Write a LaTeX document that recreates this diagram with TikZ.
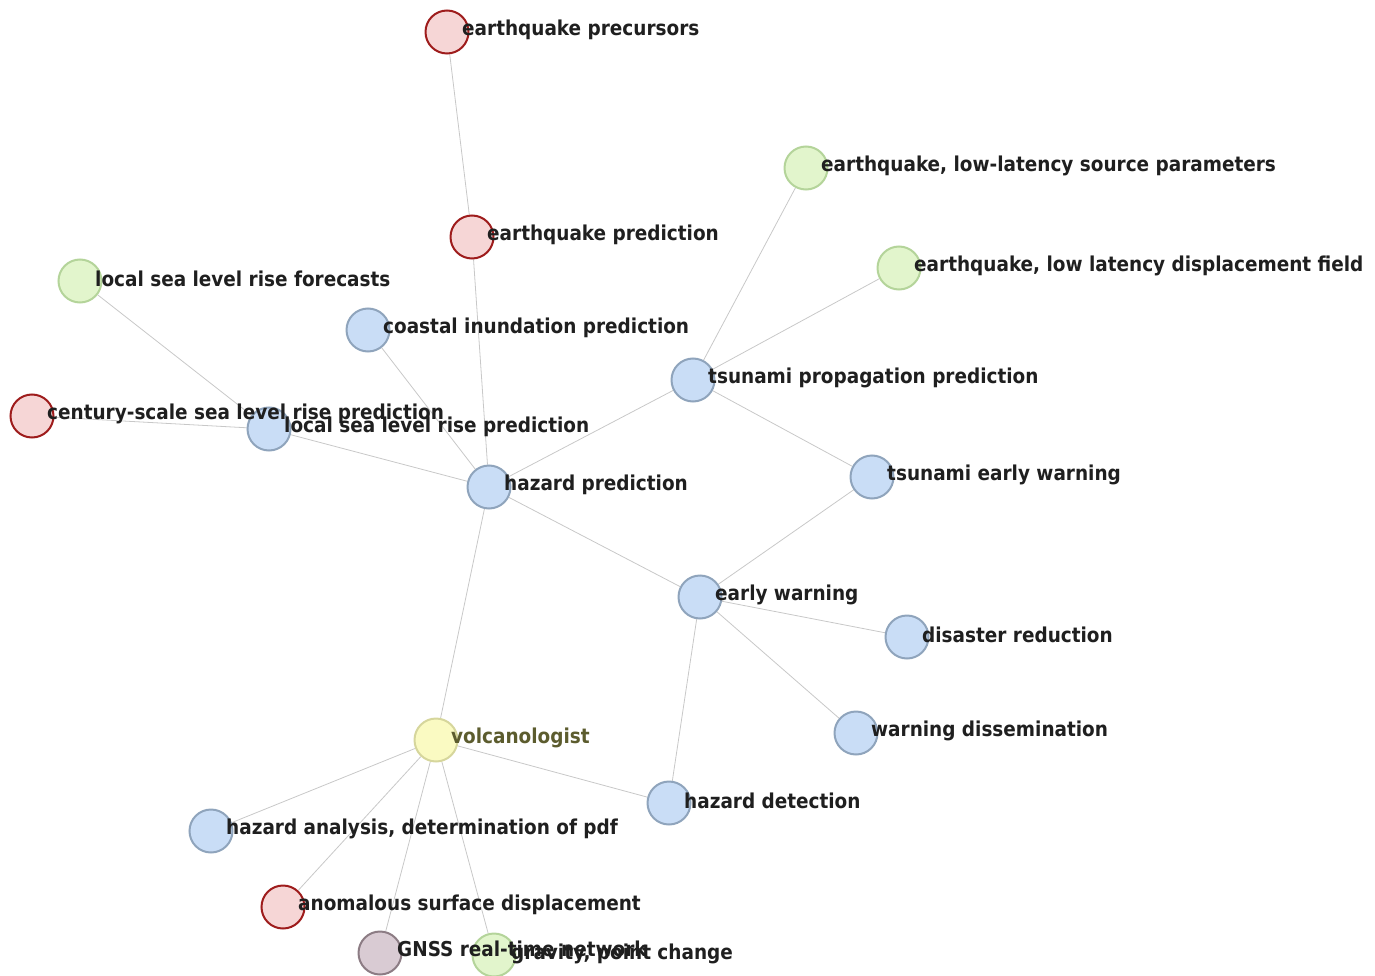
\documentclass[tikz,border=0pt]{standalone}
\usepackage{fontspec}
\newfontfamily\labfont{DejaVu Sans Condensed}[BoldFont={DejaVu Sans Condensed Bold}]
\usetikzlibrary{backgrounds}
\definecolor{bluefill}{HTML}{C9DDF6}
\definecolor{blueedge}{HTML}{8FA4BC}
\definecolor{redfill}{HTML}{F6D6D6}
\definecolor{rededge}{HTML}{9E1C1C}
\definecolor{greenfill}{HTML}{E2F5CC}
\definecolor{greenedge}{HTML}{B4D49A}
\definecolor{yellowfill}{HTML}{FAFAC2}
\definecolor{yellowedge}{HTML}{D6D69C}
\definecolor{purplefill}{HTML}{D9CBD3}
\definecolor{purpleedge}{HTML}{8C7C84}
\definecolor{edgegray}{HTML}{C8C8C8}
\definecolor{olive}{HTML}{5C5C2E}
\tikzset{
  vert/.style={circle, minimum size=43pt, inner sep=0pt, line width=2pt},
  bluev/.style={vert, fill=bluefill, draw=blueedge},
  redv/.style={vert, fill=redfill, draw=rededge},
  greenv/.style={vert, fill=greenfill, draw=greenedge},
  yellowv/.style={vert, fill=yellowfill, draw=yellowedge},
  purplev/.style={vert, fill=purplefill, draw=purpleedge},
  lab/.style={anchor=west, inner sep=0pt, font=\labfont\bfseries\fontsize{20.5}{23}\selectfont, text=black!88},
  link/.style={draw=edgegray, line width=0.8pt}
}
\begin{document}
\begin{tikzpicture}[x=1pt, y=-1pt]
\useasboundingbox (0,0) rectangle (1375,976);
% vertices
\node[redv]    (epre)  at (447,32)  {};
\node[redv]    (epred) at (472,237) {};
\node[greenv]  (esrc)  at (806,168) {};
\node[greenv]  (edisp) at (899,268) {};
\node[greenv]  (lslf)  at (80,281)  {};
\node[bluev]   (coast) at (368,330) {};
\node[bluev]   (tpp)   at (693,380) {};
\node[redv]    (cent)  at (32,416)  {};
\node[bluev]   (lslp)  at (269,429) {};
\node[bluev]   (hpred) at (489,487) {};
\node[bluev]   (tew)   at (872,477) {};
\node[bluev]   (ew)    at (700,597) {};
\node[bluev]   (dr)    at (907,637) {};
\node[bluev]   (wd)    at (856,733) {};
\node[yellowv] (volc)  at (436,740) {};
\node[bluev]   (hdet)  at (669,803) {};
\node[bluev]   (hana)  at (211,831) {};
\node[redv]    (anom)  at (283,907) {};
\node[purplev] (gnss)  at (380,953) {};
\node[greenv]  (grav)  at (494,955) {};
% edges
\begin{scope}[on background layer]
\draw[link] (epre) -- (epred);
\draw[link] (epred) -- (hpred);
\draw[link] (lslf) -- (lslp);
\draw[link] (cent) -- (lslp);
\draw[link] (lslp) -- (hpred);
\draw[link] (coast) -- (hpred);
\draw[link] (tpp) -- (hpred);
\draw[link] (tpp) -- (esrc);
\draw[link] (tpp) -- (edisp);
\draw[link] (tpp) -- (tew);
\draw[link] (tew) -- (ew);
\draw[link] (hpred) -- (ew);
\draw[link] (ew) -- (dr);
\draw[link] (ew) -- (wd);
\draw[link] (ew) -- (hdet);
\draw[link] (hpred) -- (volc);
\draw[link] (volc) -- (hdet);
\draw[link] (volc) -- (hana);
\draw[link] (volc) -- (anom);
\draw[link] (volc) -- (gnss);
\draw[link] (volc) -- (grav);
\end{scope}
% labels
\tikzset{labat/.style={xshift=15pt,yshift=2pt}}
\node[lab] (lepre)  at ([labat]epre.center)  {earthquake precursors};
\node[lab] (lepred) at ([labat]epred.center) {earthquake prediction};
\node[lab] (lesrc)  at ([labat]esrc.center)  {earthquake, low-latency source parameters};
\node[lab] (ledisp) at ([labat]edisp.center) {earthquake, low latency displacement field};
\node[lab] (llslf)  at ([labat]lslf.center)  {local sea level rise forecasts};
\node[lab] (lcoast) at ([labat]coast.center) {coastal inundation prediction};
\node[lab] (ltpp)   at ([labat]tpp.center)   {tsunami propagation prediction};
\node[lab] (lcent)  at ([labat]cent.center)  {century-scale sea level rise prediction};
\node[lab] (llslp)  at ([labat]lslp.center)  {local sea level rise prediction};
\node[lab] (lhpred) at ([labat]hpred.center) {hazard prediction};
\node[lab] (ltew)   at ([labat]tew.center)   {tsunami early warning};
\node[lab] (lew)    at ([labat]ew.center)    {early warning};
\node[lab] (ldr)    at ([labat]dr.center)    {disaster reduction};
\node[lab] (lwd)    at ([labat]wd.center)    {warning dissemination};
\node[lab, text=olive] (lvolc) at ([labat]volc.center) {volcanologist};
\node[lab] (lhdet)  at ([labat]hdet.center)  {hazard detection};
\node[lab] (lhana)  at ([labat]hana.center)  {hazard analysis, determination of pdf};
\node[lab] (lanom)  at ([labat]anom.center)  {anomalous surface displacement};
\node[lab] (lgnss)  at ([xshift=17pt,yshift=4pt]gnss.center)  {GNSS real-time network};
\node[lab] (lgrav)  at ([xshift=17pt,yshift=1pt]grav.center)  {gravity, point change};
\end{tikzpicture}
\end{document}
